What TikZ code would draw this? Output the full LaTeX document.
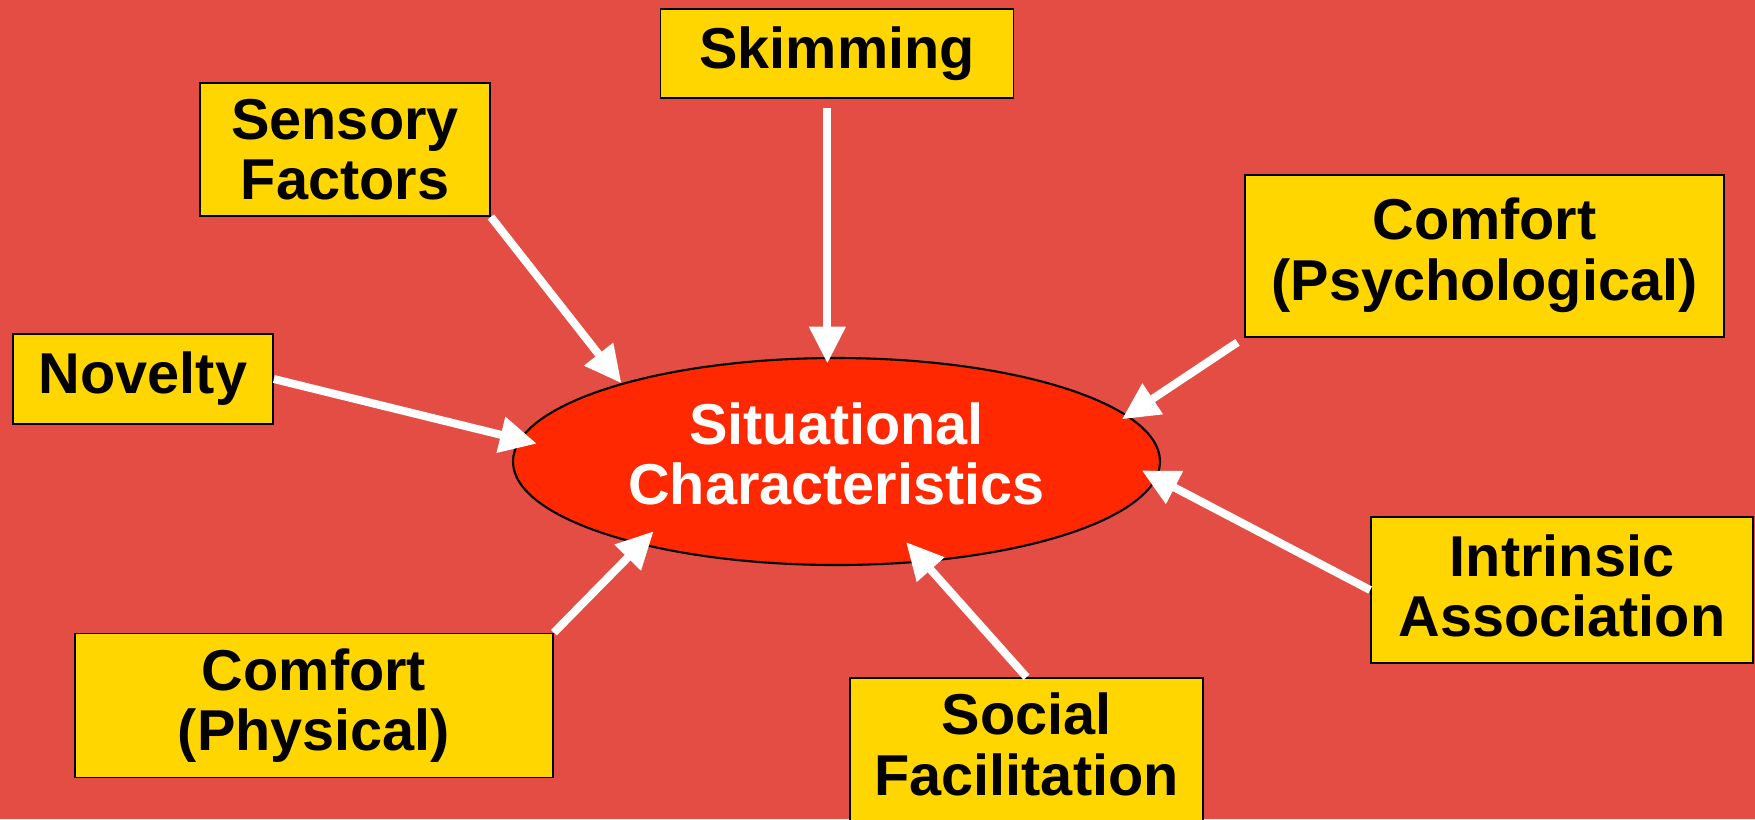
\documentclass[tikz,border=0pt]{standalone}
\usepackage{fontspec}
\setmainfont{Liberation Sans}
\usepackage{xcolor}
\usepackage{tikz}
\usetikzlibrary{shapes.geometric,arrows.meta}

\definecolor{slidebg}{RGB}{227,77,68}
\definecolor{boxyellow}{RGB}{255,214,0}
\definecolor{ovalred}{RGB}{255,40,0}

\begin{document}
\begin{tikzpicture}[
box/.style={rectangle, draw=black, fill=boxyellow, line width=0.5pt, inner sep=0pt, align=center, font=\fontsize{16.4}{17.2}\selectfont\bfseries},
oval/.style={ellipse, draw=black, fill=ovalred, line width=0.6pt, inner sep=0pt, align=center, text=white, font=\fontsize{16.4}{17.2}\selectfont\bfseries},
arr/.style={draw=white, line width=0.08cm, -{Triangle[length=0.37cm, width=0.35cm]}}
]
\clip (0,0) rectangle (17.55,-8.19);
\fill[slidebg] (0,0) rectangle (17.55,-8.19);

\node[oval, minimum width=6.47cm, minimum height=2.07cm, text depth=0.16cm](situ) at (8.365,-4.615){Situational\\Characteristics};

\node[box, minimum width=3.53cm, minimum height=0.89cm](skimming) at (8.37,-0.535){Skimming};
\node[box, minimum width=2.90cm, minimum height=1.33cm](sensory) at (3.45,-1.495){Sensory\\Factors};
\node[box, minimum width=4.79cm, minimum height=1.62cm, text depth=0.14cm](comfort_psych) at (14.845,-2.56){Comfort\\(Psychological)};
\node[box, minimum width=2.60cm, minimum height=0.90cm](novelty) at (1.43,-3.79){Novelty};
\node[box, minimum width=3.82cm, minimum height=1.46cm, text depth=0.09cm](intrinsic) at (15.62,-5.90){Intrinsic\\Association};
\node[box, minimum width=4.78cm, minimum height=1.44cm](comfort_phys) at (3.14,-7.055){Comfort\\(Physical)};
\node[box, minimum width=3.53cm, minimum height=1.54cm, text depth=0.22cm](social) at (10.265,-7.55){Social\\Facilitation};

\draw[arr, shorten <=0.09cm, shorten >=-0.065cm] (skimming.south -| situ.95.5) -- (situ.95.5);
\draw[arr] (sensory.south east) -- (situ.160);
\draw[arr, shorten >=-0.18cm] (novelty.east) -- (situ.176.8);
\draw[arr, shorten <=0.08cm, shorten >=-0.07cm] (comfort_psych.south west) -- (situ.9.1);
\draw[arr, shorten >=-0.17cm] (intrinsic.west) -- (situ.-3);
\draw[arr, shorten >=-0.19cm] (comfort_phys.north east) -- (situ.203.6);
\draw[arr, shorten >=-0.27cm] (social.north) -- (situ.-49.6);

\end{tikzpicture}
\end{document}
